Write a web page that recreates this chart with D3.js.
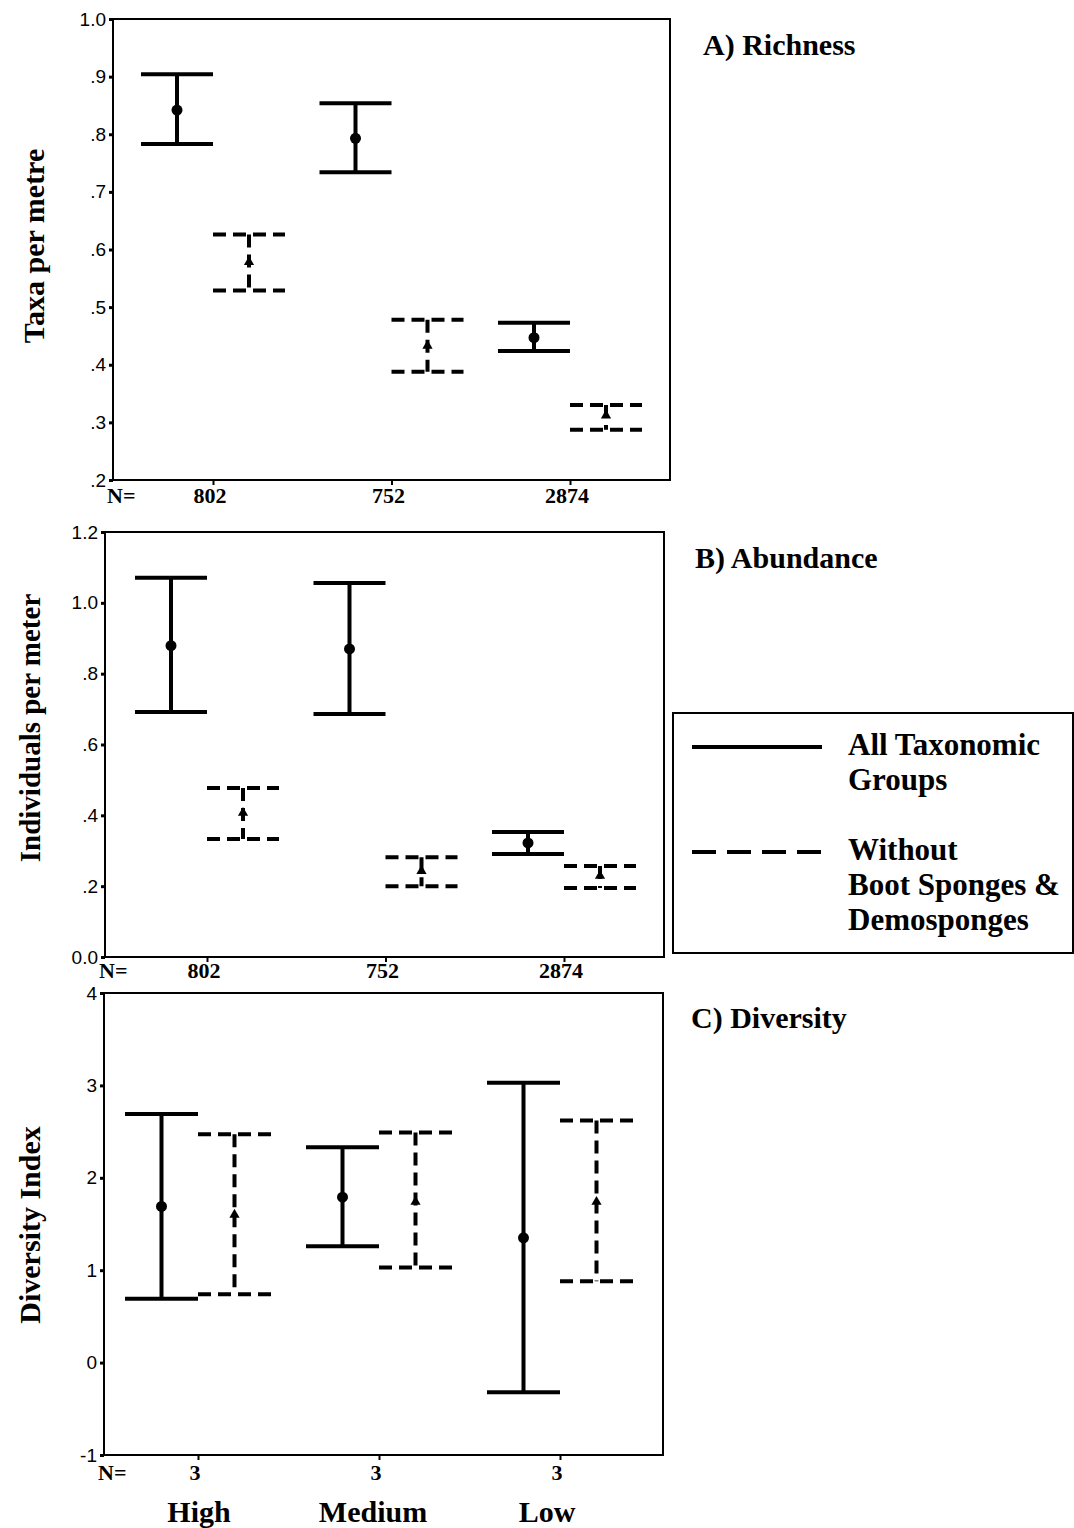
<!DOCTYPE html>
<html>
<head>
<meta charset="utf-8">
<script src="https://cdn.jsdelivr.net/npm/d3@7"></script>
<style>
  body { margin: 0; background: #fff; }
</style>
</head>
<body>
<div id="chart"></div>
<script>
// categories
const groups = ["High", "Medium", "Low"];
const series = ["all", "without"];
const nRich = ["802", "752", "2874"];
const nAbund = ["802", "752", "2874"];
const nDiv = ["3", "3", "3"];

// A) Richness - taxa per metre
const richAllMean = [0.842, 0.793, 0.447];
const richAllLo = [0.783, 0.734, 0.424];
const richAllHi = [0.904, 0.854, 0.473];
const richWoMean = [0.578, 0.433, 0.312];
const richWoLo = [0.529, 0.388, 0.287];
const richWoHi = [0.626, 0.478, 0.330];

// B) Abundance - individuals per meter
const abAllMean = [0.879, 0.870, 0.322];
const abAllLo = [0.692, 0.686, 0.291];
const abAllHi = [1.071, 1.056, 0.353];
const abWoMean = [0.407, 0.243, 0.229];
const abWoLo = [0.333, 0.200, 0.195];
const abWoHi = [0.477, 0.282, 0.257];

// C) Diversity index
const divAllMean = [1.69, 1.79, 1.35];
const divAllLo = [0.69, 1.26, -0.32];
const divAllHi = [2.69, 2.33, 3.03];
const divWoMean = [1.60, 1.74, 1.74];
const divWoLo = [0.74, 1.03, 0.88];
const divWoHi = [2.47, 2.49, 2.62];

// tick values
const richTicks = [0.2, 0.3, 0.4, 0.5, 0.6, 0.7, 0.8, 0.9, 1.0];
const abTicks = [0, 0.2, 0.4, 0.6, 0.8, 1.0, 1.2];
const divTicks = [-1, 0, 1, 2, 3, 4];

const serif = "'Liberation Serif', 'Times New Roman', serif";
const sans = "'Liberation Sans', Arial, sans-serif";

const svg = d3.select("#chart")
    .append("svg")
    .attr("width", 1074)
    .attr("height", 1528);

// strip leading zero like ".8", keep "1.0" / "0.0" / "1.2"
const decFmt = d => {
    const s = d3.format(".1f")(d);
    if (d === 0 || d >= 1) return s;
    return s.replace(/^0/, "");
};

function drawPanel(p) {
    const x = d3.scalePoint().domain(groups).range(p.xRange);
    const off = d3.scalePoint().domain(series).range([-p.half, p.half]);
    const y = d3.scaleLinear().domain(p.domain).range([p.yBot, p.yTop]);

    const g = svg.append("g");

    // frame
    g.append("rect")
        .attr("x", p.x0)
        .attr("y", p.yTop)
        .attr("width", p.x1 - p.x0)
        .attr("height", p.yBot - p.yTop)
        .attr("fill", "none")
        .attr("stroke", "#000")
        .attr("stroke-width", 2);

    const yAxis = g.append("g")
        .attr("transform", `translate(${p.x0},0)`)
        .call(d3.axisLeft(y).tickValues(p.ticks).tickFormat(p.fmt).tickSize(4).tickPadding(3));
    yAxis.select(".domain").remove();
    yAxis.selectAll(".tick line").attr("stroke", "#000").attr("stroke-width", 3);
    yAxis.selectAll(".tick text")
        .attr("fill", "#000")
        .style("font-family", sans)
        .style("font-size", "19px");

    const xAxis = g.append("g")
        .attr("transform", `translate(0,${p.yBot})`)
        .call(d3.axisBottom(x).tickSize(5).tickFormat(""));
    xAxis.select(".domain").remove();
    xAxis.selectAll(".tick line").attr("stroke", "#000").attr("stroke-width", 2);

    // N row
    g.append("text")
        .attr("x", p.x0 - 6)
        .attr("y", p.nY)
        .style("font-family", serif)
        .style("font-weight", "bold")
        .style("font-size", "22px")
        .text("N=");
    g.selectAll(".nlab")
        .data(groups)
        .enter()
        .append("text")
        .attr("class", "nlab")
        .attr("x", d => x(d) - 3)
        .attr("y", p.nY)
        .attr("text-anchor", "middle")
        .style("font-family", serif)
        .style("font-weight", "bold")
        .style("font-size", "22px")
        .text((d, i) => p.n[i]);

    // error bars
    const sets = [
        { key: "all", mean: p.allMean, lo: p.allLo, hi: p.allHi, dash: null },
        { key: "without", mean: p.woMean, lo: p.woLo, hi: p.woHi, dash: "13,7" }
    ];

    sets.forEach(s => {
        const rows = groups.map((grp, i) => ({
            cx: x(grp) + off(s.key),
            mean: s.mean[i],
            lo: s.lo[i],
            hi: s.hi[i]
        }));
        const bars = g.selectAll(null).data(rows).enter().append("g");

        bars.append("line")
            .attr("x1", d => d.cx).attr("x2", d => d.cx)
            .attr("y1", d => y(d.hi)).attr("y2", d => y(d.lo))
            .attr("stroke", "#000").attr("stroke-width", 4)
            .attr("stroke-dasharray", s.dash);
        ["hi", "lo"].forEach(k => {
            bars.append("line")
                .attr("x1", d => d.cx - p.cap).attr("x2", d => d.cx + p.cap)
                .attr("y1", d => y(d[k])).attr("y2", d => y(d[k]))
                .attr("stroke", "#000").attr("stroke-width", 4)
                .attr("stroke-dasharray", s.dash);
        });

        if (s.key === "all") {
            bars.append("circle")
                .attr("cx", d => d.cx)
                .attr("cy", d => y(d.mean))
                .attr("r", 5.5)
                .attr("fill", "#000");
        } else {
            bars.append("path")
                .attr("d", d3.symbol(d3.symbolTriangle, 45))
                .attr("transform", d => `translate(${d.cx},${y(d.mean)})`)
                .attr("fill", "#000");
        }
    });

    // panel title
    g.append("text")
        .attr("x", p.titleX)
        .attr("y", p.titleY)
        .style("font-family", serif)
        .style("font-weight", "bold")
        .style("font-size", "30px")
        .text(p.title);

    // y label
    g.append("text")
        .attr("transform", `translate(${p.ylabX},${p.ylabY}) rotate(-90)`)
        .attr("text-anchor", "middle")
        .style("font-family", serif)
        .style("font-weight", "bold")
        .style("font-size", p.ylabSize + "px")
        .text(p.ylab);

    return x;
}

drawPanel({
    x0: 113, x1: 670, yTop: 19, yBot: 480,
    xRange: [213, 570], half: 36, cap: 36,
    domain: [0.2, 1.0], ticks: richTicks, fmt: decFmt,
    n: nRich, nY: 503,
    allMean: richAllMean, allLo: richAllLo, allHi: richAllHi,
    woMean: richWoMean, woLo: richWoLo, woHi: richWoHi,
    title: "A) Richness", titleX: 703, titleY: 55,
    ylab: "Taxa per metre", ylabX: 44, ylabY: 246, ylabSize: 30
});

drawPanel({
    x0: 105, x1: 664, yTop: 532, yBot: 957,
    xRange: [207, 564], half: 36, cap: 36,
    domain: [0, 1.2], ticks: abTicks, fmt: decFmt,
    n: nAbund, nY: 978,
    allMean: abAllMean, allLo: abAllLo, allHi: abAllHi,
    woMean: abWoMean, woLo: abWoLo, woHi: abWoHi,
    title: "B) Abundance", titleX: 695, titleY: 568,
    ylab: "Individuals per meter", ylabX: 40, ylabY: 728, ylabSize: 29
});

drawPanel({
    x0: 104, x1: 663, yTop: 993, yBot: 1455,
    xRange: [198, 560], half: 36.5, cap: 36.5,
    domain: [-1, 4], ticks: divTicks, fmt: d => String(d),
    n: nDiv, nY: 1480,
    allMean: divAllMean, allLo: divAllLo, allHi: divAllHi,
    woMean: divWoMean, woLo: divWoLo, woHi: divWoHi,
    title: "C) Diversity", titleX: 691, titleY: 1028,
    ylab: "Diversity Index", ylabX: 40, ylabY: 1225, ylabSize: 30
});

// category labels under panel C
const xCat = d3.scalePoint().domain(groups).range([199, 547]);
svg.selectAll(".cat")
    .data(groups)
    .enter()
    .append("text")
    .attr("class", "cat")
    .attr("x", d => xCat(d))
    .attr("y", 1522)
    .attr("text-anchor", "middle")
    .style("font-family", serif)
    .style("font-weight", "bold")
    .style("font-size", "30px")
    .text(d => d);

// legend
const legend = svg.append("g");
legend.append("rect")
    .attr("x", 673).attr("y", 713)
    .attr("width", 400).attr("height", 240)
    .attr("fill", "none")
    .attr("stroke", "#000")
    .attr("stroke-width", 2);
legend.append("line")
    .attr("x1", 692).attr("x2", 822)
    .attr("y1", 747).attr("y2", 747)
    .attr("stroke", "#000").attr("stroke-width", 4);
legend.append("line")
    .attr("x1", 692).attr("x2", 822)
    .attr("y1", 852).attr("y2", 852)
    .attr("stroke", "#000").attr("stroke-width", 4)
    .attr("stroke-dasharray", "24,11");

const legendLines = [
    { t: "All Taxonomic", y: 755 },
    { t: "Groups", y: 790 },
    { t: "Without", y: 860 },
    { t: "Boot Sponges &", y: 895 },
    { t: "Demosponges", y: 930 }
];
legend.selectAll(".lt")
    .data(legendLines)
    .enter()
    .append("text")
    .attr("class", "lt")
    .attr("x", 848)
    .attr("y", d => d.y)
    .style("font-family", serif)
    .style("font-weight", "bold")
    .style("font-size", "31px")
    .text(d => d.t);
</script>
</body>
</html>
